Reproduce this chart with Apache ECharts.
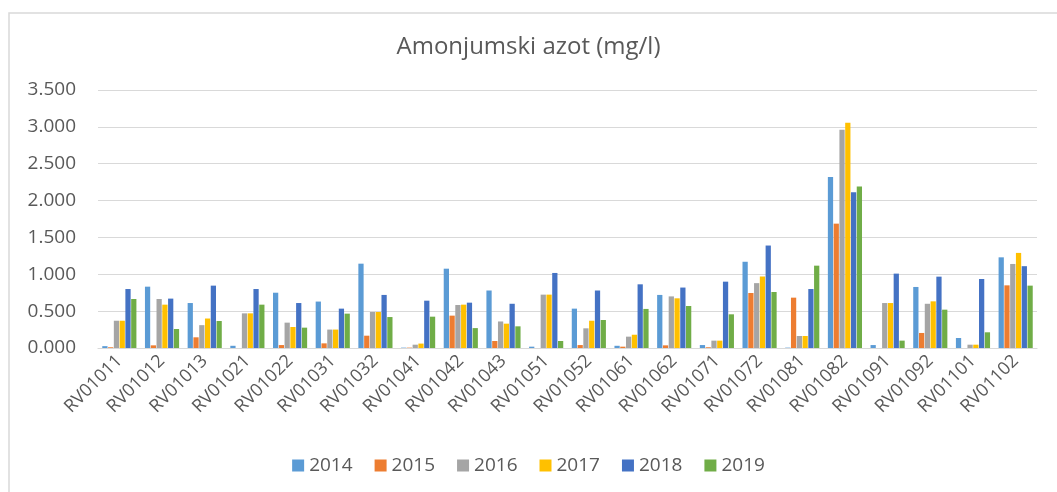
<!DOCTYPE html>
<html><head><meta charset="utf-8">
<script src="https://cdn.jsdelivr.net/npm/echarts@6/dist/echarts.min.js"></script>
<style>html,body{margin:0;padding:0;background:#fff}#c{width:1057px;height:492px}</style>
</head><body><div id="c"></div>
<script>
const categories = ['RV01011','RV01012','RV01013','RV01021','RV01022','RV01031','RV01032','RV01041','RV01042','RV01043','RV01051','RV01052','RV01061','RV01062','RV01071','RV01072','RV01081','RV01082','RV01091','RV01092','RV01101','RV01102'];
const years = ['2014','2015','2016','2017','2018','2019'];
const v2014 = [0.025,0.832,0.61,0.03,0.75,0.63,1.144,0.005,1.076,0.78,0.018,0.534,0.03,0.72,0.04,1.17,0.005,2.32,0.04,0.828,0.136,1.23];
const v2015 = [0.01,0.036,0.145,0,0.04,0.063,0.167,0.005,0.439,0.095,0,0.04,0.018,0.036,0.01,0.746,0.683,1.687,0,0.204,0,0.85];
const v2016 = [0.37,0.665,0.31,0.47,0.344,0.25,0.488,0.045,0.583,0.36,0.724,0.267,0.154,0.70,0.10,0.88,0.163,2.96,0.61,0.60,0.045,1.14];
const v2017 = [0.37,0.588,0.40,0.47,0.285,0.25,0.488,0.06,0.588,0.33,0.724,0.37,0.18,0.674,0.10,0.97,0.163,3.057,0.61,0.633,0.045,1.29];
const v2018 = [0.80,0.67,0.846,0.80,0.61,0.534,0.72,0.642,0.615,0.60,1.018,0.78,0.864,0.82,0.90,1.39,0.80,2.112,1.009,0.968,0.936,1.11];
const v2019 = [0.665,0.258,0.366,0.588,0.276,0.466,0.42,0.425,0.27,0.294,0.095,0.38,0.53,0.57,0.457,0.76,1.117,2.19,0.10,0.52,0.213,0.846];
const yTicks = [0,0.5,1,1.5,2,2.5,3,3.5];
const values = [v2014,v2015,v2016,v2017,v2018,v2019];
const colors = ['#5B9BD5','#ED7D31','#A5A5A5','#FFC000','#4472C4','#70AD47'];
const font = 'Open Sans';
const chart = echarts.init(document.getElementById('c'));
chart.setOption({
  animation:false,
  color: colors,
  graphic:[{type:'rect',shape:{x:9,y:13,width:1060,height:490},style:{fill:'none',stroke:'#d9d9d9',lineWidth:1.5},silent:true}],
  title:{text:'Amonjumski azot (mg/l)',left:'center',top:30,textStyle:{fontFamily:font,fontSize:24,fontWeight:'normal',color:'#595959'}},
  grid:{left:98,right:20,top:90,bottom:144},
  legend:{top:451,left:'center',itemWidth:12,itemHeight:12,itemGap:22,
    textStyle:{fontFamily:font,fontSize:19,color:'#595959'},
    data:years.map(y=>({name:y,icon:'path://M0,0L12,0L12,12L0,12Z'}))},
  xAxis:{type:'category',data:categories,axisTick:{show:false},axisLine:{lineStyle:{color:'#d9d9d9',width:1.2}},
    axisLabel:{rotate:45,interval:0,fontFamily:font,fontSize:18,color:'#595959',margin:10}},
  yAxis:{type:'value',min:yTicks[0],max:yTicks[yTicks.length-1],interval:0.5,
    axisLabel:{formatter:v=>v.toFixed(3),fontFamily:font,fontSize:19,color:'#595959',margin:22},
    splitLine:{lineStyle:{color:'#d9d9d9',width:1.2}},axisLine:{show:false},axisTick:{show:false}},
  series: years.map((y,i)=>({name:y,type:'bar',data:values[i],barGap:'10%',barCategoryGap:'20%'}))
});
</script></body></html>
